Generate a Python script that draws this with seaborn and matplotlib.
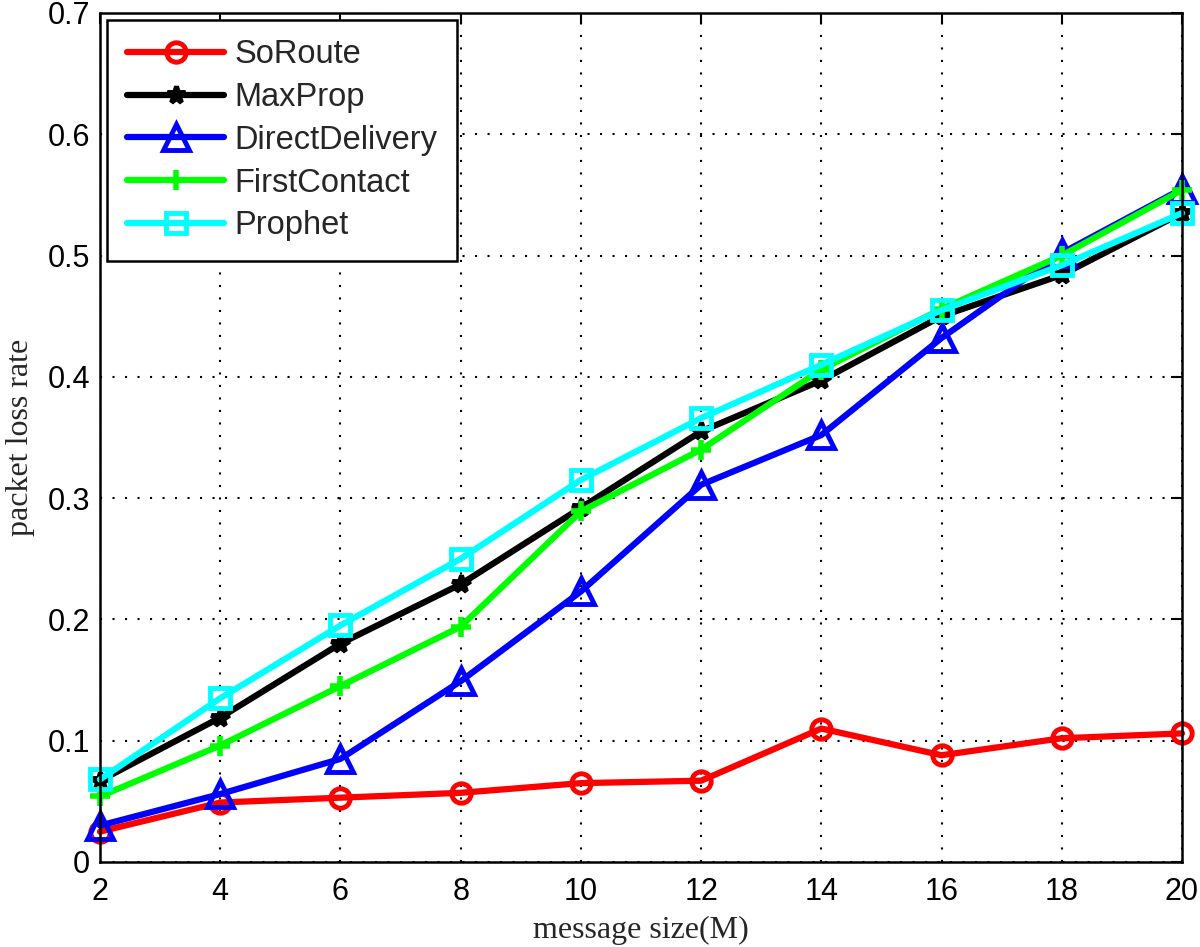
import matplotlib
matplotlib.use("Agg")
import matplotlib.pyplot as plt
import seaborn as sns
import pandas as pd

x_sizes = [2, 4, 6, 8, 10, 12, 14, 16, 18, 20]
soroute = [0.025, 0.049, 0.053, 0.057, 0.065, 0.067, 0.110, 0.088, 0.102, 0.106]
maxprop = [0.067, 0.119, 0.180, 0.229, 0.292, 0.355, 0.397, 0.450, 0.484, 0.535]
directdelivery = [0.030, 0.056, 0.085, 0.149, 0.223, 0.311, 0.352, 0.432, 0.502, 0.555]
firstcontact = [0.054, 0.096, 0.145, 0.194, 0.289, 0.340, 0.406, 0.456, 0.500, 0.554]
prophet = [0.068, 0.135, 0.195, 0.250, 0.315, 0.366, 0.410, 0.455, 0.492, 0.535]

names = ["SoRoute", "MaxProp", "DirectDelivery", "FirstContact", "Prophet"]
series = [soroute, maxprop, directdelivery, firstcontact, prophet]
colors = ["#ff0000", "#000000", "#0000ff", "#00ff00", "#00ffff"]
markers = ["o", "*", "^", "+", "s"]
msizes = [14, 13, 19, 15, 15]
mews = [3.5, 3.5, 3.5, 4, 3.5]

sns.set_theme(style="white")
plt.rcParams["font.family"] = ["Liberation Sans", "DejaVu Sans"]

fig = plt.figure(figsize=(12, 9.47), dpi=100)
ax = fig.add_axes([0.0833, 0.0898, 0.9017, 0.8965])

for name, vals, c, m, ms, mew in zip(names, series, colors, markers, msizes, mews):
    df = pd.DataFrame({"x": x_sizes, "y": vals})
    sns.lineplot(data=df, x="x", y="y", ax=ax, color=c, marker=m, markersize=ms,
                 markerfacecolor="none", markeredgecolor=c, markeredgewidth=mew,
                 linewidth=4.5, label=name, clip_on=False)

ax.set_xlim(2, 20)
ax.set_ylim(0, 0.7)
ax.set_xticks(x_sizes)
ax.set_yticks([0, 0.1, 0.2, 0.3, 0.4, 0.5, 0.6, 0.7])
ax.set_yticklabels(["0", "0.1", "0.2", "0.3", "0.4", "0.5", "0.6", "0.7"])
ax.tick_params(axis="both", direction="in", length=8, width=1.5, labelsize=22,
               top=True, right=True, colors="black")
ax.tick_params(axis="x", pad=11)
ax.tick_params(axis="y", pad=7)
ax.grid(True, linestyle=(0, (1, 5)), color="black", linewidth=1.5)
for s in ax.spines.values():
    s.set_visible(True)
    s.set_color("black")
    s.set_linewidth(1.8)

ax.set_xlabel("message size(M)", fontsize=23, family=["Liberation Serif", "DejaVu Serif"], labelpad=6)
ax.set_ylabel("packet loss rate", fontsize=23, family=["Liberation Serif", "DejaVu Serif"], labelpad=9)

leg = ax.legend(loc="upper left", fontsize=23.5, frameon=True, fancybox=False,
                edgecolor="black", framealpha=1, handlelength=3.0,
                borderpad=0.6, labelspacing=0.36, handletextpad=0.3,
                borderaxespad=0, bbox_to_anchor=(0.0065, 0.992))
leg.get_frame().set_linewidth(1.8)

fig.savefig("out.png", dpi=100)
